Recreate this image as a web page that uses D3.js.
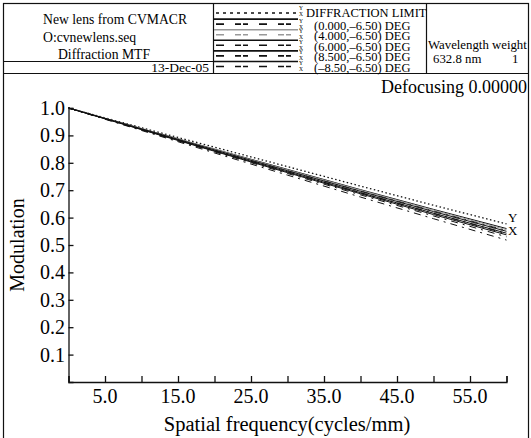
<!DOCTYPE html>
<html><head><meta charset="utf-8">
<script src="https://cdn.jsdelivr.net/npm/d3@7"></script>
<style>body{margin:0;background:#fff}svg{display:block}text{font-family:"Liberation Serif","Times New Roman",serif;fill:#000}</style>
</head><body><svg id="c" width="531" height="438"></svg>
<script>
const freqs = [0, 10, 20, 30, 40, 50, 60];
const diffLimit = [1, 0.928, 0.857, 0.786, 0.715, 0.645, 0.577];
const f0Y   = [1, 0.925, 0.850, 0.776, 0.702, 0.630, 0.560];
const f0X   = [1, 0.924, 0.848, 0.773, 0.698, 0.625, 0.553];
const f4Y   = [1, 0.925, 0.849, 0.774, 0.700, 0.627, 0.556];
const f4X   = [1, 0.923, 0.846, 0.770, 0.694, 0.620, 0.547];
const f6Y   = [1, 0.924, 0.847, 0.771, 0.696, 0.622, 0.550];
const f6X   = [1, 0.922, 0.844, 0.767, 0.690, 0.615, 0.541];
const f85Y  = [1, 0.922, 0.844, 0.767, 0.691, 0.616, 0.543];
const f85X  = [1, 0.920, 0.840, 0.761, 0.683, 0.606, 0.530];
const fm85Y = [1, 0.921, 0.842, 0.764, 0.687, 0.611, 0.537];
const fm85X = [1, 0.918, 0.836, 0.755, 0.675, 0.596, 0.518];
const legendLabels = ["DIFFRACTION LIMIT", "(0.000,\u20136.50) DEG", "(4.000,\u20136.50) DEG", "(6.000,\u20136.50) DEG", "(8.500,\u20136.50) DEG", "(\u20138.50,\u20136.50) DEG"];
const headerLines = ["New lens from CVMACR", "O:cvnewlens.seq", "Diffraction MTF"];
const dateLabel = "13-Dec-05";
const xTickLabels = ["5.0", "15.0", "25.0", "35.0", "45.0", "55.0"];
const yTickLabels = ["0.1","0.2","0.3","0.4","0.5","0.6","0.7","0.8","0.9","1.0"];

const svg = d3.select("#c");
const ink = "#111";
const DOT = "1.5,2.5", DASHDOT = "7,5,2,5";
const series = [
  {v: diffLimit, dash: DOT, color: ink, w: 1.3},
  {v: f0Y, dash: null, color: ink, w: 1},
  {v: f0X, dash: DASHDOT, color: ink, w: 1},
  {v: f4Y, dash: null, color: "#999", w: 1},
  {v: f4X, dash: DASHDOT, color: "#999", w: 1},
  {v: f6Y, dash: null, color: ink, w: 1},
  {v: f6X, dash: DASHDOT, color: ink, w: 1},
  {v: f85Y, dash: null, color: ink, w: 1},
  {v: f85X, dash: DASHDOT, color: ink, w: 1},
  {v: fm85Y, dash: null, color: ink, w: 1},
  {v: fm85X, dash: DASHDOT, color: ink, w: 1}
];

// frame
const fr = svg.append("g").attr("fill","none").attr("stroke",ink).attr("stroke-width",1.2);
fr.append("rect").attr("x",3.5).attr("y",3.5).attr("width",525).attr("height",440);
fr.append("line").attr("x1",3.5).attr("x2",528.5).attr("y1",73.5).attr("y2",73.5);
fr.append("line").attr("x1",213.5).attr("x2",213.5).attr("y1",3.5).attr("y2",73.5);
fr.append("line").attr("x1",426.5).attr("x2",426.5).attr("y1",3.5).attr("y2",73.5);
fr.append("line").attr("x1",3.5).attr("x2",213.5).attr("y1",61.5).attr("y2",61.5);

// header text
svg.append("text").attr("x",43).attr("y",24).attr("font-size",13.7).text(headerLines[0]);
svg.append("text").attr("x",43).attr("y",42).attr("font-size",13.7).text(headerLines[1]);
svg.append("text").attr("x",104).attr("y",59).attr("text-anchor","middle").attr("font-size",13.7).text(headerLines[2]);
svg.append("text").attr("x",209).attr("y",72).attr("text-anchor","end").attr("font-size",13.5).text(dateLabel);
svg.append("text").attr("x",428).attr("y",49).attr("font-size",12.8).text("Wavelength weight");
svg.append("text").attr("x",433).attr("y",63).attr("font-size",12.8).text("632.8 nm");
svg.append("text").attr("x",512).attr("y",63).attr("font-size",12.8).text("1");

// legend
const lg = svg.append("g");
legendLabels.forEach((t,i)=>{
  const top = 5 + i*10.6 + (i>0?2:0);
  lg.append("text").attr("x", i===0?306:314).attr("y",top+12).attr("font-size",12.5).text(t);
  if(i===0){
    lg.append("line").attr("x1",216).attr("x2",298).attr("y1",top+8).attr("y2",top+8).attr("stroke",ink).attr("stroke-width",1.4).attr("stroke-dasharray","3,4");
  } else {
    const s = series[i*2-1], sx = series[i*2];
    lg.append("line").attr("x1",214).attr("x2",298).attr("y1",top+1.5).attr("y2",top+1.5).attr("stroke",s.color).attr("stroke-width",1.6);
    lg.append("line").attr("x1",216).attr("x2",298).attr("y1",top+6.5).attr("y2",top+6.5).attr("stroke",sx.color).attr("stroke-width",1.6).attr("stroke-dasharray","8,11,6,2,5,11");
  }
  lg.append("text").attr("x",299).attr("y",top+5).attr("font-size",5.5).text("Y");
  lg.append("text").attr("x",299).attr("y",top+11).attr("font-size",5.5).text("X");
});

// plot
const x = d3.scaleLinear().domain([0,60]).range([68.5,506.5]);
const y = d3.scaleLinear().domain([0,1]).range([382,108]);
const xa = svg.append("g").attr("transform","translate(0,382)")
  .call(d3.axisBottom(x).tickValues(d3.range(0,61,5)).tickSize(-6).tickFormat(""));
const ya = svg.append("g").attr("transform","translate(68.5,0)")
  .call(d3.axisLeft(y).tickValues(d3.range(0.1,1.01,0.1)).tickSize(-5).tickFormat(""));
[xa,ya].forEach(a=>{a.selectAll("path,line").attr("stroke",ink).attr("stroke-width",1.3);});
xTickLabels.forEach(t=>svg.append("text").attr("x",x(+t)).attr("y",403).attr("text-anchor","middle").attr("font-size",20).text(t));
yTickLabels.forEach(t=>svg.append("text").attr("x",65).attr("y",y(+t)+7).attr("text-anchor","end").attr("font-size",20).text(t));

const line = d3.line().x((d,i)=>x(freqs[i])).y(d=>y(d));
series.forEach(s=>{
  svg.append("path").attr("d",line(s.v)).attr("fill","none").attr("stroke",s.color).attr("stroke-width",s.w).attr("stroke-dasharray",s.dash);
});
svg.append("text").attr("x",508).attr("y",222).attr("font-size",13).text("Y");
svg.append("text").attr("x",508).attr("y",235).attr("font-size",13).text("X");

svg.append("text").attr("x",527).attr("y",93).attr("text-anchor","end").attr("font-size",18).text("Defocusing 0.00000");
svg.append("text").attr("transform","translate(24,245) rotate(-90)").attr("text-anchor","middle").attr("font-size",20).text("Modulation");
svg.append("text").attr("x",287).attr("y",431).attr("text-anchor","middle").attr("font-size",20.5).text("Spatial frequency(cycles/mm)");
</script></body></html>
